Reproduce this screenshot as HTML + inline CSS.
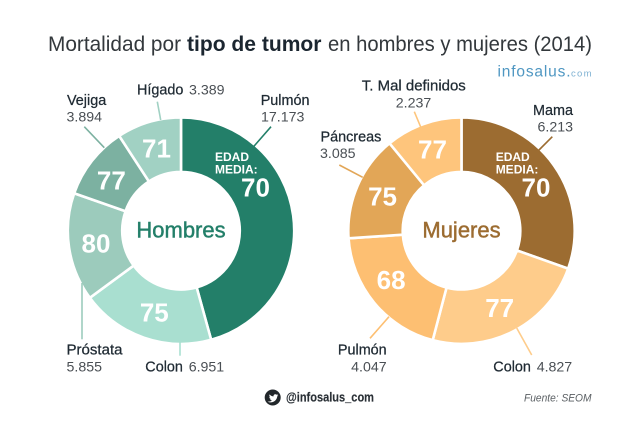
<!DOCTYPE html>
<html lang="es">
<head>
<meta charset="utf-8">
<title>Mortalidad por tipo de tumor en hombres y mujeres (2014)</title>
<style>
html,body{margin:0;padding:0;background:#fff;}
body{width:640px;height:427px;overflow:hidden;}
svg{display:block;font-family:"Liberation Sans",sans-serif;}
.nm{font-size:14.4px;fill:#1f2a33;stroke:#1f2a33;stroke-width:.25px;}
.vl{font-size:14.2px;fill:#4a4f54;}
.num{font-size:26px;font-weight:bold;fill:#fff;text-anchor:middle;}
.edad{font-size:12px;font-weight:bold;fill:#fff;}
</style>
</head>
<body>
<svg id="chart" width="640" height="427" viewBox="0 0 640 427" xmlns="http://www.w3.org/2000/svg">
  <g>
    <text x="48" y="51" font-size="21" fill="#33383c" textLength="133" lengthAdjust="spacingAndGlyphs">Mortalidad por</text>
    <text x="187" y="51" font-size="21.5" font-weight="bold" fill="#1b2630" textLength="134.5" lengthAdjust="spacingAndGlyphs">tipo de tumor</text>
    <text x="328" y="51" font-size="21" fill="#33383c" textLength="264" lengthAdjust="spacingAndGlyphs">en hombres y mujeres (2014)</text>
  </g>
  <g>
    <text x="497.5" y="76.5" font-size="15.5" fill="#4f97c2" textLength="73" lengthAdjust="spacing">infosalus.</text>
    <text x="571" y="76.5" font-size="9.5" fill="#7fb2d3" textLength="20.5" lengthAdjust="spacing">com</text>
  </g>
  <g id="hombres"></g>
  <g id="mujeres"></g>
  <g>
    <circle cx="272.7" cy="397.5" r="8" fill="#22272b"/>
    <path d="M267.6 401.6c3.6 1.9 8.9.3 9.7-5.2l1-1.2-1.2.3.9-1.2-1.3.5c-1.2-1.3-3.6-.3-3.1 1.6-1.6 0-3-.8-4-2-.5 1-.3 2.1.6 2.8l-.9-.2c0 1 .7 1.8 1.7 2.1l-.9 0c.3.8 1 1.3 1.9 1.4-1.1.8-2.3 1.2-4.4 1.1z" fill="#fff"/>
    <text x="286" y="401.5" font-size="12.8" font-weight="bold" fill="#2a3036" stroke="#2a3036" stroke-width="0.15" textLength="88" lengthAdjust="spacingAndGlyphs">@infosalus_com</text>
  </g>
  <text x="524" y="401.5" font-size="11" font-style="italic" fill="#5a5f63" textLength="67.5" lengthAdjust="spacingAndGlyphs">Fuente: SEOM</text>
</svg>
<script>
// Hombres data
const hombresCategories = ['Pulmón', 'Colon', 'Próstata', 'Vejiga', 'Hígado'];
const hombresDeaths = [17173, 6951, 5855, 3894, 3389];
const hombresAges = [70, 75, 80, 77, 71];
// The men's ring in the picture is not strictly proportional to its printed figures.
const hombresArcWeights = [1.045, 1.084, 1.037, 1.053, 1.065];

// Mujeres data
const mujeresCategories = ['Mama', 'Colon', 'Pulmón', 'Páncreas', 'T. Mal definidos'];
const mujeresDeaths = [6213, 4827, 4047, 3085, 2237];
const mujeresAges = [70, 77, 68, 75, 77];
const mujeresArcWeights = [1, 1, 1, 1, 1];

const SVGNS = 'http://www.w3.org/2000/svg';
const RING_OUTER = 113.2;
const RING_INNER = 58.8;
const RING_LABEL = 86;
const FIRST_LABEL_ANGLE = 60;

function polar(cx, cy, radius, deg) {
  const a = (deg - 90) * Math.PI / 180;
  return [cx + radius * Math.cos(a), cy + radius * Math.sin(a)];
}

function formatDeaths(n) {
  return String(n).replace(/\B(?=(\d{3})+(?!\d))/g, '.');
}

function arcPath(cx, cy, a0, a1) {
  const large = a1 - a0 > 180 ? 1 : 0;
  const p0 = polar(cx, cy, RING_OUTER, a0);
  const p1 = polar(cx, cy, RING_OUTER, a1);
  const p2 = polar(cx, cy, RING_INNER, a1);
  const p3 = polar(cx, cy, RING_INNER, a0);
  return 'M' + p0[0] + ' ' + p0[1] +
    'A' + RING_OUTER + ' ' + RING_OUTER + ' 0 ' + large + ' 1 ' + p1[0] + ' ' + p1[1] +
    'L' + p2[0] + ' ' + p2[1] +
    'A' + RING_INNER + ' ' + RING_INNER + ' 0 ' + large + ' 0 ' + p3[0] + ' ' + p3[1] + 'Z';
}

function addText(parent, cls, x, y, anchor, str) {
  const t = document.createElementNS(SVGNS, 'text');
  t.setAttribute('class', cls);
  t.setAttribute('x', x);
  t.setAttribute('y', y);
  t.setAttribute('text-anchor', anchor);
  t.textContent = str;
  parent.appendChild(t);
  return t;
}

function drawDonut(cfg) {
  const root = document.getElementById(cfg.id);
  const weighted = cfg.deaths.map(function (v, i) { return v * cfg.weights[i]; });
  const total = weighted.reduce(function (a, b) { return a + b; }, 0);
  let angle = 0;
  weighted.forEach(function (v, i) {
    const sweep = v / total * 360;
    const start = angle;
    const end = angle + sweep;
    angle = end;
    const lay = cfg.labels[i];

    const slice = document.createElementNS(SVGNS, 'path');
    
    
    slice.setAttribute('d', arcPath(cfg.cx, cfg.cy, start, end));
    slice.setAttribute('fill', cfg.colors[i]);
    slice.setAttribute('stroke', '#fff');
    slice.setAttribute('stroke-width', '2.6');
    root.appendChild(slice);

    const labelAngle = i === 0 ? FIRST_LABEL_ANGLE : (start + end) / 2 + (lay.nudge || 0);
    const lp = polar(cfg.cx, cfg.cy, RING_LABEL, labelAngle);
    const age = addText(root, 'num', lp[0], lp[1] + 9, 'middle', String(cfg.ages[i]));
    
    

    const leader = document.createElementNS(SVGNS, 'line');
    
    
    leader.setAttribute('x1', lay.line[0]);
    leader.setAttribute('y1', lay.line[1]);
    leader.setAttribute('x2', lay.line[2]);
    leader.setAttribute('y2', lay.line[3]);
    leader.setAttribute('stroke', cfg.colors[i]);
    leader.setAttribute('stroke-width', '1.6');
    root.appendChild(leader);

    const nm = addText(root, 'nm', lay.name[0], lay.name[1], lay.name[2], cfg.categories[i]);
    
    
    if (lay.nameLen) {
      nm.setAttribute('textLength', lay.nameLen);
      nm.setAttribute('lengthAdjust', 'spacingAndGlyphs');
    }

    const vl = addText(root, 'vl', lay.value[0], lay.value[1], lay.value[2], formatDeaths(cfg.deaths[i]));
    
    
  });

  const e1 = addText(root, 'edad', cfg.edadX, 161, 'start', 'EDAD');
  
  
  const e2 = addText(root, 'edad', cfg.edadX, 173.3, 'start', 'MEDIA:');
  
  

  const center = addText(root, 'ctr', cfg.cx, 237.5, 'middle', cfg.title);
  
  
  center.setAttribute('font-size', '22');
  center.setAttribute('fill', cfg.colors[0]);
  center.setAttribute('stroke', cfg.colors[0]);
  center.setAttribute('stroke-width', '0.45');
}

drawDonut({
  id: 'hombres', title: 'Hombres', cx: 181, cy: 230.7, edadX: 215,
  categories: hombresCategories, deaths: hombresDeaths, ages: hombresAges, weights: hombresArcWeights,
  colors: ['#237f69', '#a9dfd0', '#9ccbbc', '#7cb1a1', '#a1d1c3'],
  labels: [
    { name: [260.7, 105, 'start'], value: [261, 121.7, 'start'], line: [271, 126.7, 253.3, 147] },
    { name: [145.3, 371.7, 'start'], value: [188.7, 371.7, 'start'], line: [180, 342, 180, 355.7], nudge: -1 },
    { name: [66.5, 354.3, 'start'], nameLen: 56, value: [66.5, 371.7, 'start'], line: [82, 283, 82, 339.3] },
    { name: [67, 105, 'start'], value: [66.5, 121.7, 'start'], line: [84.3, 126.7, 104.3, 147.7], nudge: -2.2 },
    { name: [137, 94.7, 'start'], value: [189, 94.7, 'start'], line: [157.3, 101.7, 160.7, 120] }
  ]
});

drawDonut({
  id: 'mujeres', title: 'Mujeres', cx: 461.5, cy: 230.7, edadX: 495.7,
  categories: mujeresCategories, deaths: mujeresDeaths, ages: mujeresAges, weights: mujeresArcWeights,
  colors: ['#9c6c31', '#fecc8b', '#fdbf72', '#e2a657', '#fec57c'],
  labels: [
    { name: [573, 115, 'end'], value: [573, 131.7, 'end'], line: [552.3, 136.7, 539, 150] },
    { name: [493.3, 371.7, 'start'], value: [536.7, 371.7, 'start'], line: [531.7, 355, 516.7, 328], nudge: 1.5 },
    { name: [386.7, 354.3, 'end'], value: [386.7, 371.7, 'end'], line: [370, 338.3, 389, 316.7], nudge: 4.5 },
    { name: [320.5, 141.7, 'start'], value: [320, 158, 'start'], line: [339.3, 165, 362.7, 177.3] },
    { name: [413.8, 90.7, 'middle'], nameLen: 104, value: [413.5, 107.7, 'middle'], line: [414.3, 111.7, 420.7, 127] }
  ]
});
</script>
</body>
</html>
